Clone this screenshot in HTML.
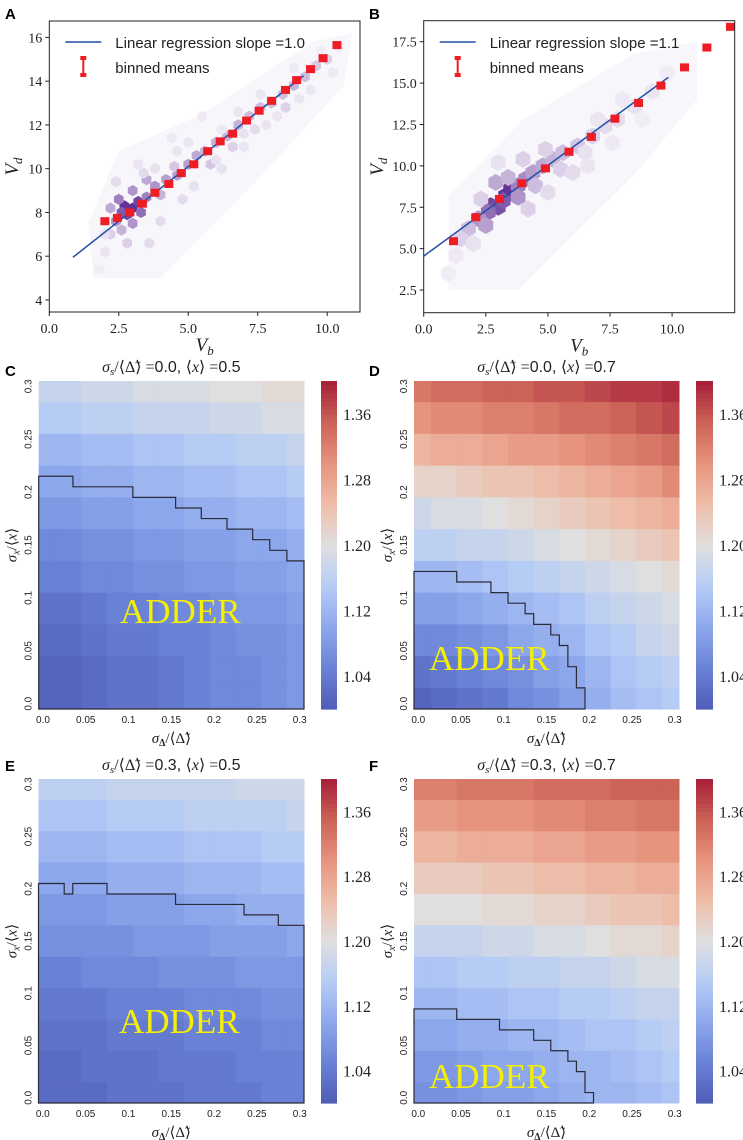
<!DOCTYPE html>
<html><head><meta charset="utf-8"><style>
html,body{margin:0;padding:0;background:#fff;}
svg{display:block;}
text{font-family:"Liberation Sans",sans-serif;}
.serif{font-family:"Liberation Serif",serif;}
</style></head><body>
<svg id="fig" width="743" height="1140" viewBox="0 0 743 1140" xmlns="http://www.w3.org/2000/svg"></svg>
<script>
// ---------- Panel A data ----------
const aMeansX=[2.0,2.45,2.9,3.35,3.8,4.3,4.75,5.2,5.7,6.15,6.6,7.1,7.55,8.0,8.5,8.9,9.4,9.85,10.35];
const aMeansY=[7.6,7.75,8.0,8.4,8.9,9.3,9.8,10.2,10.8,11.25,11.6,12.2,12.65,13.1,13.6,14.05,14.55,15.05,15.65];
const aLineX=[0.85,9.15];
const aLineY=[5.95,14.25];
const aHexX=[2.7,3.0,3.2,2.8,2.6,3.3,2.5,3.5,2.4,3.0,3.0,3.8,4.2,4.6,5.0,5.3,2.2,2.6,3.5,4.0,5.6,6.0,6.4,6.8,7.2,7.6,8.0,8.4,8.8,9.2,9.6,10.0,5.8,4.5,6.6,7.4,8.5,2.2,2.0,3.6,4.8,6.2,7.0,7.8,9.0,10.4,1.8,3.2,4.4,5.5,2.4,2.0,4.0,5.2,6.0,7.0,8.2,9.4,10.2,3.8,4.6,6.8,7.6,8.8,9.8,2.8,3.4,5.0,6.2];
const aHexY=[8.3,8.2,8.5,7.9,8.0,8.0,8.6,8.7,7.6,7.5,9.0,9.2,9.5,9.7,10.2,10.6,8.2,7.2,9.5,8.8,10.8,11.2,11.5,12.0,12.4,12.8,13.0,13.4,13.8,14.2,14.7,15.0,10.2,10.1,11.0,11.8,12.8,7.0,6.2,6.6,8.6,10.0,11.0,12.0,13.2,15.6,5.4,10.2,11.4,12.4,9.4,7.0,7.6,9.2,10.4,11.6,12.4,13.6,14.4,10.0,10.8,12.6,13.4,14.6,15.4,6.6,9.8,11.2,11.8];
const aHexD=[1,1,0.9,0.9,0.8,0.7,0.6,0.6,0.5,0.5,0.5,0.5,0.45,0.45,0.45,0.4,0.4,0.35,0.4,0.35,0.35,0.35,0.35,0.35,0.3,0.3,0.3,0.3,0.35,0.3,0.25,0.2,0.25,0.25,0.2,0.15,0.2,0.2,0.1,0.15,0.15,0.12,0.1,0.1,0.1,0.1,0.06,0.1,0.08,0.08,0.15,0.12,0.15,0.12,0.12,0.12,0.1,0.1,0.08,0.12,0.1,0.1,0.1,0.08,0.06,0.2,0.15,0.1,0.08];
const aXTicks=[0,2.5,5,7.5,10];
const aXLabels=["0.0","2.5","5.0","7.5","10.0"];
const aYTicks=[4,6,8,10,12,14,16];
const aYLabels=["4","6","8","10","12","14","16"];
// ---------- Panel B data ----------
const bMeansX=[1.2,2.1,3.05,3.95,4.9,5.85,6.75,7.7,8.65,9.55,10.5,11.4,12.35];
const bMeansY=[5.45,6.9,8.0,8.95,9.85,10.85,11.75,12.85,13.8,14.85,15.95,17.15,18.4];
const bLineX=[0.0,9.85];
const bLineY=[4.55,15.35];
const bHexX=[3.3,3.5,2.7,3.0,3.2,2.6,3.8,4.1,2.2,2.5,3.8,4.4,4.8,2.9,3.4,5.2,5.6,4.5,1.8,1.5,6.2,6.8,7.3,7.8,8.5,9.2,5.5,4.9,2.0,6.5,1.0,7.0,8.0,9.8,4.0,6.0,2.3,1.3,5.0,6.6,7.6,8.8,3.0,4.2];
const bHexY=[8.2,8.6,7.6,7.5,7.9,7.2,8.8,9.2,6.8,6.4,8.1,9.6,10.0,9.0,9.3,10.4,10.8,8.8,6.2,5.6,11.2,11.8,12.4,12.8,13.6,14.5,9.8,11.0,5.3,10.8,3.5,12.8,14.0,15.6,10.4,9.6,8.0,4.6,8.4,10.0,11.4,12.8,10.2,7.4];
const bHexD=[1,1,0.9,0.85,0.8,0.7,0.6,0.55,0.5,0.45,0.5,0.45,0.4,0.4,0.35,0.35,0.3,0.3,0.3,0.2,0.25,0.2,0.15,0.15,0.12,0.1,0.2,0.2,0.12,0.12,0.06,0.1,0.08,0.06,0.2,0.15,0.2,0.08,0.15,0.1,0.08,0.06,0.12,0.2];
const bXTicks=[0,2.5,5,7.5,10];
const bXLabels=["0.0","2.5","5.0","7.5","10.0"];
const bYTicks=[2.5,5,7.5,10,12.5,15,17.5];
const bYLabels=["2.5","5.0","7.5","10.0","12.5","15.0","17.5"];
// ---------- Heatmap data (rows: sigma_x = 0.30 down to 0.00 step 0.03; cols: sigma_D = 0..0.30 step 0.03) ----------
const hmCoords=[0,0.03,0.06,0.09,0.12,0.15,0.18,0.21,0.24,0.27,0.30];
const hmC=[
[1.17,1.17,1.18,1.18,1.19,1.19,1.19,1.20,1.20,1.21,1.21],
[1.15,1.15,1.16,1.16,1.17,1.17,1.17,1.18,1.18,1.19,1.19],
[1.12,1.12,1.13,1.13,1.14,1.14,1.15,1.15,1.16,1.16,1.17],
[1.10,1.10,1.11,1.11,1.12,1.12,1.13,1.13,1.14,1.14,1.15],
[1.08,1.08,1.09,1.09,1.10,1.10,1.11,1.11,1.12,1.12,1.13],
[1.06,1.06,1.07,1.07,1.08,1.08,1.09,1.09,1.10,1.10,1.11],
[1.05,1.05,1.06,1.06,1.07,1.07,1.08,1.08,1.09,1.09,1.10],
[1.03,1.03,1.04,1.05,1.05,1.06,1.06,1.07,1.08,1.08,1.09],
[1.02,1.02,1.03,1.04,1.04,1.05,1.05,1.06,1.07,1.07,1.08],
[1.01,1.01,1.02,1.03,1.03,1.04,1.05,1.06,1.06,1.07,1.08],
[1.01,1.01,1.02,1.03,1.03,1.04,1.05,1.06,1.06,1.07,1.08]];
const hmD=[
[1.33,1.34,1.34,1.35,1.35,1.36,1.36,1.37,1.38,1.38,1.39],
[1.30,1.31,1.31,1.32,1.32,1.33,1.34,1.34,1.35,1.36,1.37],
[1.26,1.27,1.27,1.28,1.29,1.29,1.30,1.31,1.32,1.33,1.34],
[1.22,1.22,1.23,1.24,1.24,1.25,1.26,1.27,1.28,1.29,1.31],
[1.18,1.19,1.19,1.20,1.21,1.22,1.23,1.24,1.25,1.26,1.27],
[1.16,1.16,1.17,1.17,1.18,1.19,1.20,1.21,1.22,1.23,1.24],
[1.12,1.12,1.13,1.14,1.15,1.16,1.17,1.18,1.19,1.20,1.21],
[1.09,1.09,1.10,1.11,1.12,1.13,1.14,1.16,1.17,1.18,1.19],
[1.06,1.06,1.07,1.08,1.10,1.11,1.12,1.14,1.15,1.17,1.18],
[1.03,1.04,1.05,1.06,1.07,1.09,1.10,1.12,1.14,1.15,1.16],
[1.01,1.02,1.03,1.04,1.06,1.07,1.09,1.11,1.13,1.14,1.15]];
const hmE=[
[1.16,1.16,1.16,1.17,1.17,1.17,1.17,1.17,1.18,1.18,1.18],
[1.14,1.14,1.14,1.15,1.15,1.15,1.16,1.16,1.16,1.16,1.17],
[1.12,1.12,1.12,1.13,1.13,1.13,1.14,1.14,1.14,1.15,1.15],
[1.10,1.10,1.10,1.11,1.11,1.11,1.12,1.12,1.12,1.13,1.13],
[1.08,1.08,1.08,1.09,1.09,1.09,1.10,1.10,1.11,1.11,1.11],
[1.07,1.07,1.07,1.07,1.08,1.08,1.08,1.09,1.09,1.09,1.10],
[1.05,1.05,1.06,1.06,1.06,1.07,1.07,1.07,1.08,1.08,1.08],
[1.04,1.04,1.04,1.05,1.05,1.05,1.06,1.06,1.06,1.07,1.07],
[1.03,1.03,1.03,1.04,1.04,1.04,1.05,1.05,1.05,1.06,1.06],
[1.02,1.02,1.03,1.03,1.03,1.04,1.04,1.04,1.05,1.05,1.05],
[1.02,1.02,1.02,1.03,1.03,1.03,1.04,1.04,1.04,1.05,1.05]];
const hmF=[
[1.32,1.32,1.33,1.33,1.33,1.34,1.34,1.34,1.35,1.35,1.35],
[1.29,1.29,1.30,1.30,1.30,1.31,1.31,1.32,1.32,1.33,1.33],
[1.26,1.26,1.27,1.27,1.27,1.28,1.28,1.29,1.29,1.30,1.30],
[1.23,1.23,1.23,1.24,1.24,1.25,1.25,1.26,1.26,1.27,1.27],
[1.20,1.20,1.20,1.21,1.21,1.22,1.22,1.23,1.24,1.24,1.25],
[1.17,1.17,1.17,1.18,1.18,1.19,1.19,1.20,1.21,1.21,1.22],
[1.14,1.14,1.15,1.15,1.16,1.16,1.17,1.17,1.18,1.19,1.19],
[1.12,1.12,1.13,1.13,1.14,1.14,1.15,1.15,1.16,1.17,1.17],
[1.10,1.10,1.11,1.11,1.12,1.12,1.13,1.14,1.14,1.15,1.16],
[1.08,1.08,1.09,1.10,1.10,1.11,1.12,1.12,1.13,1.14,1.15],
[1.07,1.07,1.08,1.09,1.09,1.10,1.11,1.12,1.12,1.13,1.14]];
// ADDER boundary steps: x edges and y levels
const cEdges=[-0.005,0.035,0.105,0.155,0.185,0.215,0.245,0.265,0.285,0.305];
const cLevels=[0.215,0.205,0.195,0.185,0.175,0.165,0.155,0.145,0.135];
const dEdges=[-0.005,0.045,0.085,0.105,0.125,0.135,0.155,0.165,0.175,0.185,0.195];
const dLevels=[0.125,0.115,0.105,0.095,0.085,0.075,0.065,0.055,0.035,0.015];
const eEdges=[-0.005,0.025,0.035,0.075,0.155,0.235,0.275,0.305];
const eLevels=[0.205,0.195,0.205,0.195,0.185,0.175,0.165];
const fEdges=[-0.005,0.045,0.095,0.135,0.155,0.175,0.185,0.195,0.205];
const fLevels=[0.085,0.075,0.065,0.055,0.045,0.035,0.025,0.005];
const hmTicks=[0,0.05,0.1,0.15,0.2,0.25,0.3];
const hmTickLabels=["0.0","0.05","0.1","0.15","0.2","0.25","0.3"];
const cbTicks=[1.04,1.12,1.20,1.28,1.36];
const cbTickLabels=["1.04","1.12","1.20","1.28","1.36"];

const NS="http://www.w3.org/2000/svg";
const svg=document.getElementById('fig');
function mk(tag,attrs,parent){const e=document.createElementNS(NS,tag);for(const k in attrs)e.setAttribute(k,attrs[k]);(parent||svg).appendChild(e);return e;}
function lin(d0,d1,r0,r1){return v=>r0+(v-d0)*(r1-r0)/(d1-d0);}
const cwStops=[[0,59,76,192],[0.125,86,117,226],[0.25,124,158,248],[0.375,170,199,253],[0.5,221,221,221],[0.625,246,183,156],[0.75,244,136,107],[0.875,218,82,66],[1,180,4,38]];
function coolwarm(t){t=Math.max(0,Math.min(1,t));for(let i=1;i<cwStops.length;i++){if(t<=cwStops[i][0]){const a=cwStops[i-1],b=cwStops[i];const f=(t-a[0])/(b[0]-a[0]);return [a[1]+f*(b[1]-a[1]),a[2]+f*(b[2]-a[2]),a[3]+f*(b[3]-a[3])];}}return [180,4,38];}
function cmap(v){const c=coolwarm((v-1.0)/0.4);const m=(c[0]+c[1]+c[2])/3;const s=0.82,w=0.06;
  return 'rgb('+c.map(x=>{let y=m+(x-m)*s;y=y+(255-y)*w;return Math.round(y);}).join(',')+')';}
function purple(d){const a=[250,249,252],b=[63,0,125];return `rgb(${Math.round(a[0]+d*(b[0]-a[0]))},${Math.round(a[1]+d*(b[1]-a[1]))},${Math.round(a[2]+d*(b[2]-a[2]))})`;}

function letter(t,x,y){const e=mk('text',{x:x,y:y,'font-size':15,'font-weight':'bold',fill:'#000'});e.textContent=t;

}

function scatterPanel(o){
  const g=mk('g',{});
  
  
  const sx=lin(o.xd[0],o.xd[1],o.x0,o.x1), sy=lin(o.yd[0],o.yd[1],o.y1,o.y0);
  const clipId='clip'+o.name;
  const cp=mk('clipPath',{id:clipId},g);mk('rect',{x:o.x0,y:o.y0,width:o.x1-o.x0,height:o.y1-o.y0},cp);
  const hg=mk('g',{'clip-path':`url(#${clipId})`},g);
  const cloud=mk('polygon',{points:o.cloud.map(p=>sx(p[0])+','+sy(p[1])).join(' '),fill:'#f7f6fa'},hg);
  
  
  const r=o.hexR;
  for(let i=0;i<o.hx.length;i++){
    const cx=sx(o.hx[i]),cy=sy(o.hy[i]);let pts=[];
    for(let k=0;k<6;k++){const ang=Math.PI/6+k*Math.PI/3;pts.push((cx+r*Math.cos(ang)).toFixed(1)+','+(cy+r*Math.sin(ang)).toFixed(1));}
    const h=mk('polygon',{points:pts.join(' '),fill:purple(o.hd[i]*0.8)},hg);
    
    
  }
  const ln=mk('line',{x1:sx(o.lx[0]),y1:sy(o.ly[0]),x2:sx(o.lx[1]),y2:sy(o.ly[1]),stroke:'#1f4fa8','stroke-width':1.5},hg);
  
  
  for(let i=0;i<o.mx.length;i++){
    const m=mk('rect',{x:sx(o.mx[i])-4.5,y:sy(o.my[i])-4,width:9,height:8,fill:'#ee1c25'},hg);
    
    
  }
  mk('rect',{x:o.x0,y:o.y0,width:o.x1-o.x0,height:o.y1-o.y0,fill:'none',stroke:'#222','stroke-width':1},g);
  o.xt.forEach((v,i)=>{const x=sx(v);mk('line',{x1:x,y1:o.y1,x2:x,y2:o.y1+4,stroke:'#222'},g);
    const t=mk('text',{x:x,y:o.y1+21,'font-size':14,'text-anchor':'middle',class:'serif',fill:'#222'},g);t.textContent=o.xl[i];
    
    });
  o.yt.forEach((v,i)=>{const y=sy(v);mk('line',{x1:o.x0-4,y1:y,x2:o.x0,y2:y,stroke:'#222'},g);
    const t=mk('text',{x:o.x0-7,y:y+5,'font-size':14,'text-anchor':'end',class:'serif',fill:'#222'},g);t.textContent=o.yl[i];
    
    });
  const xl=mk('text',{x:(o.x0+o.x1)/2,y:o.y1+39,'font-size':19,'text-anchor':'middle',class:'serif','font-style':'italic',fill:'#222'},g);
  xl.innerHTML='V<tspan font-size="13" dy="4">b</tspan>';
  
  
  const yl=mk('text',{x:0,y:0,'font-size':19,'text-anchor':'middle',class:'serif','font-style':'italic',fill:'#222',transform:`translate(${o.ylx},${(o.y0+o.y1)/2}) rotate(-90)`},g);
  yl.innerHTML='V<tspan font-size="13" dy="4">d</tspan>';
  
  
  const lg=mk('g',{},g);
  
  
  mk('line',{x1:o.x0+16,y1:42,x2:o.x0+52,y2:42,stroke:'#1f4fa8','stroke-width':1.5},lg);
  const t1=mk('text',{x:o.x0+66,y:48,'font-size':15,fill:'#222'},lg);t1.textContent=o.legText;
  
  
  const ex=o.x0+34;
  mk('line',{x1:ex,y1:58,x2:ex,y2:76,stroke:'#ee1c25','stroke-width':2},lg);
  mk('rect',{x:ex-3,y:56,width:6,height:4,fill:'#ee1c25'},lg);
  mk('rect',{x:ex-3,y:73,width:6,height:4,fill:'#ee1c25'},lg);
  const t2=mk('text',{x:o.x0+66,y:73,'font-size':15,fill:'#222'},lg);t2.textContent='binned means';
  
  
}

letter('A',5,19);
scatterPanel({name:'panel-a-scatter',x0:49.3,x1:360,y0:21,y1:312,xd:[0,11.18],yd:[3.45,16.75],
 hx:aHexX,hy:aHexY,hd:aHexD,hexR:5.6,lx:aLineX,ly:aLineY,mx:aMeansX,my:aMeansY,
 xt:aXTicks,xl:aXLabels,yt:aYTicks,yl:aYLabels,ylx:18,legText:'Linear regression slope =1.0',
 cloud:[[1.6,5.0],[4.0,5.0],[7.5,9.5],[10.6,13.8],[10.9,16.2],[9.5,15.8],[5.5,12.5],[2.5,10.8],[1.4,7.5]]});
letter('B',369,19);
scatterPanel({name:'panel-b-scatter',x0:423.7,x1:734.7,y0:20.7,y1:312.7,xd:[0,12.52],yd:[1.13,18.77],
 hx:bHexX,hy:bHexY,hd:bHexD,hexR:8.5,lx:bLineX,ly:bLineY,mx:bMeansX,my:bMeansY,
 xt:bXTicks,xl:bXLabels,yt:bYTicks,yl:bYLabels,ylx:383,legText:'Linear regression slope =1.1',
 cloud:[[1,2.5],[3.8,2.5],[8.5,9.5],[11,14],[11,17.5],[8.5,16.8],[4,12.8],[1,8.2]]});

function heatPanel(o){
  const g=mk('g',{});
  
  
  const sx=lin(-0.005,0.305,o.x0,o.x1), sy=lin(-0.005,0.305,o.y1,o.y0);
  const n=hmCoords.length;
  for(let r=0;r<n;r++){
    const yv=hmCoords[n-1-r];
    for(let c=0;c<n;c++){
      const xv=hmCoords[c];
      const xa=Math.max(-0.005,xv-0.015),xb=Math.min(0.305,xv+0.015);
      const ya=Math.max(-0.005,yv-0.015),yb=Math.min(0.305,yv+0.015);
      const cell=mk('rect',{x:sx(xa),y:sy(yb),width:sx(xb)-sx(xa)+0.5,height:sy(ya)-sy(yb)+0.5,fill:cmap(o.data[r][c])},g);
      
      
    }
  }
  let d=`M${sx(-0.005)},${sy(-0.005)} L${sx(o.edges[0])},${sy(o.levels[0])}`;
  for(let i=0;i<o.levels.length;i++){d+=` L${sx(o.edges[i])},${sy(o.levels[i])} L${sx(o.edges[i+1])},${sy(o.levels[i])}`;}
  d+=` L${sx(o.edges[o.edges.length-1])},${sy(-0.005)} Z`;
  const p=mk('path',{d:d,fill:'none',stroke:'#2a2a3a','stroke-width':1.2},g);
  
  
  const ad=mk('text',{x:o.ax,y:o.ay,'font-size':35,class:'serif',fill:'#f5f000'},g);ad.textContent='ADDER';
  
  
  hmTicks.forEach((v,i)=>{
    const tx=mk('text',{x:sx(v),y:o.y1+14,'font-size':10,'text-anchor':'middle',fill:'#222'},g);tx.textContent=hmTickLabels[i];
    
    
    const ty=mk('text',{x:0,y:0,'font-size':10,'text-anchor':'middle',fill:'#222',transform:`translate(${o.x0-7},${sy(v)}) rotate(-90)`},g);ty.textContent=hmTickLabels[i];
    
    
  });
  const xl=mk('text',{x:(o.x0+o.x1)/2,y:o.y1+34,'font-size':15,'text-anchor':'middle',class:'serif',fill:'#222'},g);
  xl.innerHTML='<tspan font-style="italic">σ</tspan><tspan font-size="10" dy="3" font-weight="bold">Δ</tspan><tspan dy="-3">/⟨Δ̃⟩</tspan>';
  
  
  const yl=mk('text',{x:0,y:0,'font-size':15,'text-anchor':'middle',class:'serif',fill:'#222',transform:`translate(${o.x0-22},${(o.y0+o.y1)/2}) rotate(-90)`},g);
  yl.innerHTML='<tspan font-style="italic">σ</tspan><tspan font-size="10" dy="3" font-style="italic">x</tspan><tspan dy="-3">/⟨</tspan><tspan font-style="italic">x</tspan><tspan>⟩</tspan>';
  
  
  const tt=mk('text',{x:(o.x0+o.x1)/2,y:o.y0-9,'font-size':16,'text-anchor':'middle',class:'serif',fill:'#222'},g);
  tt.innerHTML=`<tspan font-style="italic">σ</tspan><tspan font-size="11" dy="3" font-style="italic">s</tspan><tspan dy="-3">/⟨Δ̃⟩ =</tspan><tspan font-family="Liberation Sans">${o.s}, </tspan><tspan>⟨</tspan><tspan font-style="italic">x</tspan><tspan>⟩ =</tspan><tspan font-family="Liberation Sans">${o.m}</tspan>`;
  
  
  const cb=mk('g',{},g);
  
  
  const cy=lin(1.0,1.4,o.y1,o.y0);const N=80;
  for(let i=0;i<N;i++){const v0=1.0+0.4*i/N,v1=1.0+0.4*(i+1)/N;
    mk('rect',{x:o.cx,y:cy(v1),width:o.cw,height:cy(v0)-cy(v1)+0.6,fill:cmap((v0+v1)/2)},cb);}
  cbTicks.forEach((v,i)=>{const t=mk('text',{x:o.cx+o.cw+6,y:cy(v)+6,'font-size':16,class:'serif',fill:'#222'},cb);t.textContent=cbTickLabels[i];
    
    });
}
letter('C',5,376);
heatPanel({name:'panel-c-heatmap',x0:38.7,x1:304,y0:381,y1:709,data:hmC,edges:cEdges,levels:cLevels,ax:120,ay:623,cx:321,cw:16,s:'0.0',m:'0.5'});
letter('D',369,376);
heatPanel({name:'panel-d-heatmap',x0:414,x1:679,y0:381,y1:709,data:hmD,edges:dEdges,levels:dLevels,ax:429,ay:670,cx:696,cw:17,s:'0.0',m:'0.7'});
letter('E',5,771);
heatPanel({name:'panel-e-heatmap',x0:38.5,x1:304,y0:779,y1:1103,data:hmE,edges:eEdges,levels:eLevels,ax:119,ay:1033,cx:321,cw:16,s:'0.3',m:'0.5'});
letter('F',369,771);
heatPanel({name:'panel-f-heatmap',x0:414,x1:679,y0:779,y1:1103,data:hmF,edges:fEdges,levels:fLevels,ax:429,ay:1088,cx:696,cw:17,s:'0.3',m:'0.7'});
</script>
</body></html>
